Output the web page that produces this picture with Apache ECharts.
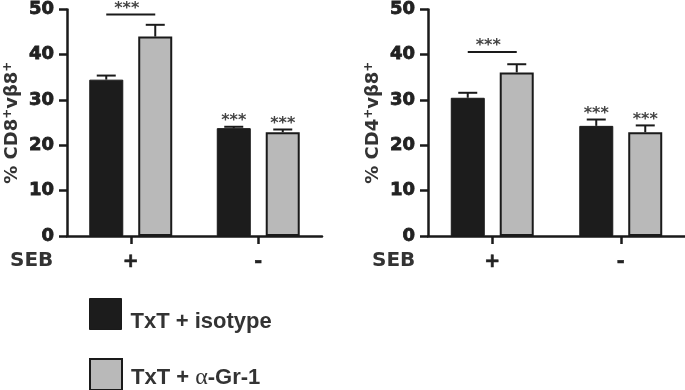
<!DOCTYPE html>
<html><head><meta charset="utf-8">
<script src="https://cdn.jsdelivr.net/npm/echarts@6/dist/echarts.min.js"></script>
<style>html,body{margin:0;padding:0;background:#fff}#c{width:685px;height:390px}</style>
</head><body><div id="c"></div>
<script>
// ---------- data ----------
const categories = ['+', '-'];
const seriesNames = ['TxT + isotype', 'TxT + α-Gr-1'];
const yMin = 0, yMax = 50, yStep = 10;

// CD8+ vβ8+ panel
const cd8Isotype = [34.5, 23.8];
const cd8IsotypeErr = [0.9, 0.3];
const cd8Gr1 = [44.0, 22.9];
const cd8Gr1Err = [2.6, 0.6];
const cd8IsotypeStars = ['', '***'];
const cd8Gr1Stars = ['', '***'];
const cd8BracketCat = [0];
const cd8BracketLevel = [48.9];
const cd8BracketStars = ['***'];

// CD4+ vβ8+ panel
const cd4Isotype = [30.5, 24.3];
const cd4IsotypeErr = [1.1, 1.4];
const cd4Gr1 = [36.1, 22.9];
const cd4Gr1Err = [1.8, 1.5];
const cd4IsotypeStars = ['', '***'];
const cd4Gr1Stars = ['', '***'];
const cd4BracketCat = [0];
const cd4BracketLevel = [40.6];
const cd4BracketStars = ['***'];

// ---------- style ----------
const INK = '#1a1a1a';
const BLACK = '#1c1c1c';
const GREY = '#b9b9b9';
const BAR_W = 34;
const BAR_OFFSET = 24.5;
const CAP = 9.5;
const NUM_FONT = 'DejaVu Sans';
const STAR_FONT = 'bold 16px "DejaVu Sans"';

const chart = echarts.init(document.getElementById('c'), null, {renderer: 'canvas'});

function errSeries(vals, errs, stars, sign, ai) {
  return {
    type: 'custom', xAxisIndex: ai, yAxisIndex: ai, z: 5, silent: true,
    data: vals.map((v, i) => [i, v, errs[i]]),
    renderItem(params, api) {
      const i = api.value(0), v = api.value(1), e = api.value(2);
      const base = api.coord([i, v]);
      const top = api.coord([i, v + e]);
      const cx = base[0] + sign * BAR_OFFSET;
      const ch = [
        {type: 'line', shape: {x1: cx, y1: base[1], x2: cx, y2: top[1]}, style: {stroke: INK, lineWidth: 2}},
        {type: 'line', shape: {x1: cx - CAP, y1: top[1], x2: cx + CAP, y2: top[1]}, style: {stroke: INK, lineWidth: 2}}
      ];
      const s = stars[params.dataIndex];
      if (s) ch.push({type: 'text', style: {text: s, x: cx, y: top[1] - 6, align: 'center', verticalAlign: 'middle',
        font: STAR_FONT, fill: '#444'}});
      return {type: 'group', children: ch};
    }
  };
}

function bracketSeries(cats, levels, stars, ai) {
  return {
    type: 'custom', xAxisIndex: ai, yAxisIndex: ai, z: 5, silent: true,
    data: cats.map((c, i) => [c, levels[i]]),
    renderItem(params, api) {
      const p = api.coord([api.value(0), api.value(1)]);
      return {type: 'group', children: [
        {type: 'line', shape: {x1: p[0] - BAR_OFFSET, y1: p[1], x2: p[0] + BAR_OFFSET, y2: p[1]}, style: {stroke: INK, lineWidth: 2}},
        {type: 'text', style: {text: stars[params.dataIndex], x: p[0] - 4, y: p[1] - 6, align: 'center', verticalAlign: 'middle',
          font: STAR_FONT, fill: '#444'}}
      ]};
    }
  };
}

function barSeries(name, vals, color, bw, ai) {
  return {
    name, type: 'bar', xAxisIndex: ai, yAxisIndex: ai, data: vals,
    barWidth: BAR_W, barGap: '44%', silent: true,
    itemStyle: {color, borderColor: INK, borderWidth: bw}
  };
}

function xAxisCfg(gi) {
  return {
    type: 'category', gridIndex: gi, data: categories,
    axisLine: {lineStyle: {color: INK, width: 2.5}},
    axisTick: {show: true, alignWithLabel: true, interval: 0, length: 8, lineStyle: {color: INK, width: 2.5}},
    axisLabel: {margin: 17, color: '#222', fontFamily: NUM_FONT, fontWeight: 'bold', fontSize: 19,
      textBorderColor: '#222', textBorderWidth: 0.6}
  };
}

function yAxisCfg(gi, label) {
  return {
    type: 'value', gridIndex: gi, min: yMin, max: yMax, interval: yStep,
    axisLine: {show: true, lineStyle: {color: INK, width: 2.5}},
    axisTick: {show: true, length: 8, lineStyle: {color: INK, width: 2.5}},
    splitLine: {show: false},
    axisLabel: {margin: 13, color: '#222', fontFamily: NUM_FONT, fontWeight: 'bold', fontSize: 18,
      textBorderColor: '#222', textBorderWidth: 0.8},
    name: label, nameLocation: 'middle', nameRotate: 90, nameGap: 45,
    nameTextStyle: {color: '#333', fontFamily: NUM_FONT, fontWeight: 'bold', fontSize: 18,
      rich: {sup: {fontSize: 12, fontFamily: NUM_FONT, fontWeight: 'bold', color: '#333', verticalAlign: 'top', padding: [0, 0, 8, 0]}}}
  };
}

function legendCfg(name, top, color, bw, shift) {
  return {
    data: [name], left: 89, top, padding: 0, orient: 'vertical', icon: 'rect', itemWidth: 32, itemHeight: 31,
    selectedMode: false, itemStyle: {color, borderColor: INK, borderWidth: bw},
    formatter: n => '{f|' + n.replace('α', '}{a|α}{t|') + '}',
    textStyle: {
      rich: {
        f: {fontFamily: 'Liberation Sans', fontWeight: 'bold', fontSize: 22, color: '#333', padding: [shift, 0, 0, 4]},
        t: {fontFamily: 'Liberation Sans', fontWeight: 'bold', fontSize: 22, color: '#333', padding: [shift, 0, 0, 0]},
        a: {fontFamily: 'Liberation Serif', fontSize: 24, color: '#333', padding: [shift, 0, 0, 0]}
      }
    }
  };
}

chart.setOption({
  animation: false,
  grid: [
    {left: 67, top: 9, width: 255, height: 227},
    {left: 428, top: 9, width: 257, height: 227}
  ],
  xAxis: [xAxisCfg(0), xAxisCfg(1)],
  yAxis: [yAxisCfg(0, '% CD8{sup|+}vβ8{sup|+}'), yAxisCfg(1, '% CD4{sup|+}vβ8{sup|+}')],
  legend: [
    legendCfg(seriesNames[0], 298, BLACK, 1, 16),
    legendCfg(seriesNames[1], 358, GREY, 2, 6)
  ],
  graphic: [
    {type: 'text', left: 10, top: 251, style: {text: 'SEB', font: 'bold 20px "DejaVu Sans"', fill: '#333'}},
    {type: 'text', left: 372, top: 251, style: {text: 'SEB', font: 'bold 20px "DejaVu Sans"', fill: '#333'}}
  ],
  series: [
    barSeries(seriesNames[0], cd8Isotype, BLACK, 1, 0),
    barSeries(seriesNames[1], cd8Gr1, GREY, 2, 0),
    errSeries(cd8Isotype, cd8IsotypeErr, cd8IsotypeStars, -1, 0),
    errSeries(cd8Gr1, cd8Gr1Err, cd8Gr1Stars, 1, 0),
    bracketSeries(cd8BracketCat, cd8BracketLevel, cd8BracketStars, 0),
    barSeries(seriesNames[0], cd4Isotype, BLACK, 1, 1),
    barSeries(seriesNames[1], cd4Gr1, GREY, 2, 1),
    errSeries(cd4Isotype, cd4IsotypeErr, cd4IsotypeStars, -1, 1),
    errSeries(cd4Gr1, cd4Gr1Err, cd4Gr1Stars, 1, 1),
    bracketSeries(cd4BracketCat, cd4BracketLevel, cd4BracketStars, 1)
  ]
});
</script></body></html>
